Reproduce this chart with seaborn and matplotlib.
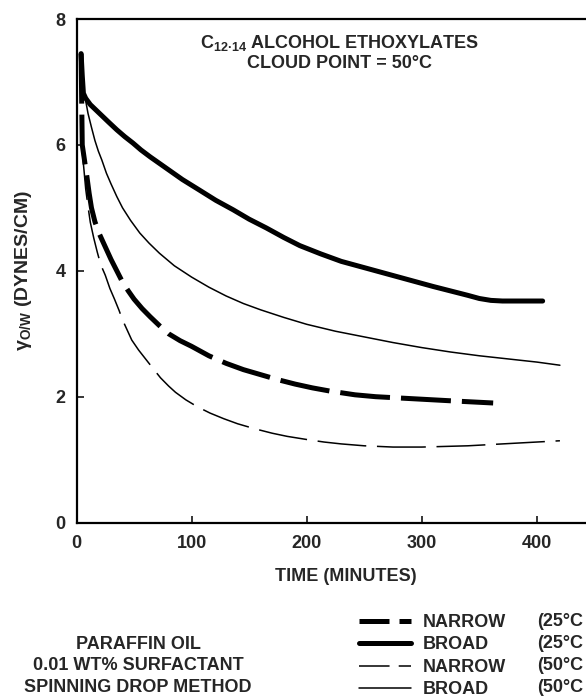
import pandas as pd
import numpy as np
import matplotlib.pyplot as plt
import seaborn as sns
from matplotlib.lines import Line2D

# --- data (time in minutes, IFT in dynes/cm) ---
t_narrow25 = [4, 4.5, 5, 7, 9, 11, 13, 16, 20, 25, 30, 35, 40, 45, 50, 57, 64, 72, 80, 90, 100,
              115, 130, 145, 160, 175, 190, 205, 220, 242, 260, 280, 300, 330, 362]
y_narrow25 = [7.45, 6.7, 6.0, 5.75, 5.5, 5.23, 5.0, 4.78, 4.58, 4.38, 4.18, 4.0, 3.82, 3.68, 3.55,
              3.4, 3.27, 3.13, 3.0, 2.89, 2.8, 2.65, 2.53, 2.43, 2.35, 2.27, 2.2, 2.14, 2.09,
              2.03, 2.0, 1.98, 1.96, 1.93, 1.9]

t_broad25 = [4, 5, 6, 8, 12, 20, 28, 35, 42, 49, 56, 64, 71, 78, 92, 107, 121, 136, 150, 165, 180,
             194, 212, 230, 250, 270, 290, 310, 325, 340, 350, 360, 370, 380, 392, 405]
y_broad25 = [7.45, 7.1, 6.82, 6.74, 6.64, 6.5, 6.36, 6.24, 6.13, 6.03, 5.92, 5.81, 5.72, 5.63, 5.45,
             5.28, 5.12, 4.97, 4.82, 4.68, 4.53, 4.4, 4.27, 4.15, 4.05, 3.95, 3.85, 3.75, 3.68,
             3.61, 3.56, 3.53, 3.52, 3.52, 3.52, 3.52]

t_narrow50 = [5, 6.5, 8, 10, 12, 15, 18, 21, 25, 29, 33, 37, 40, 44, 48, 54, 60, 66, 73, 80, 86, 95,
              105, 116, 128, 140, 155, 170, 183, 200, 215, 230, 250, 275, 300, 320, 340, 360, 380,
              400, 420]
y_narrow50 = [5.9, 5.6, 5.3, 5.02, 4.77, 4.52, 4.3, 4.1, 3.93, 3.72, 3.55, 3.37, 3.22, 3.06, 2.9,
              2.74, 2.6, 2.46, 2.3, 2.17, 2.07, 1.95, 1.84, 1.74, 1.65, 1.57, 1.49, 1.42, 1.37,
              1.32, 1.28, 1.25, 1.22, 1.2, 1.2, 1.21, 1.22, 1.24, 1.26, 1.28, 1.30]

t_broad50 = [4, 5, 6, 8, 10, 13, 16, 19, 22, 26, 30, 35, 40, 47, 55, 63, 72, 85, 100, 115, 130, 145,
             160, 180, 200, 225, 250, 275, 300, 325, 350, 375, 400, 420]
y_broad50 = [7.45, 7.1, 6.85, 6.7, 6.5, 6.28, 6.07, 5.9, 5.76, 5.55, 5.38, 5.18, 5.0, 4.8, 4.6,
             4.44, 4.28, 4.08, 3.9, 3.74, 3.6, 3.48, 3.38, 3.26, 3.15, 3.04, 2.95, 2.86, 2.78,
             2.71, 2.65, 2.6, 2.55, 2.5]

x_ticks = [0, 100, 200, 300, 400]
y_ticks = [0, 2, 4, 6, 8]

sns.set_style("ticks")
plt.rcParams["font.family"] = ["Liberation Sans", "DejaVu Sans"]
plt.rcParams["font.weight"] = "bold"
plt.rcParams["mathtext.fontset"] = "custom"
plt.rcParams["mathtext.rm"] = "Liberation Sans:bold"
plt.rcParams["mathtext.it"] = "Liberation Sans:italic:bold"

fig = plt.figure(figsize=(5.86, 7.0), dpi=100)
ax = fig.add_axes([76.5 / 586, (700 - 522.6) / 700, (586 - 76.5) / 586, (522.6 - 19) / 700])

thick, thin = 3.6, 1.1
series = [
    ("NARROW", "(25°C", t_narrow25, y_narrow25, thick, (0, (10, 2.2))),
    ("BROAD", "(25°C", t_broad25, y_broad25, thick, "-"),
    ("NARROW", "(50°C", t_narrow50, y_narrow50, thin, (0, (32, 7))),
    ("BROAD", "(50°C", t_broad50, y_broad50, thin, "-"),
]
for name, temp, t, y, lw, ls in series:
    df = pd.DataFrame({"time": t, "ift": y})
    sns.lineplot(data=df, x="time", y="ift", ax=ax, color="black", lw=lw,
                 linestyle=ls, sort=False, estimator=None, legend=False)

ax.set_xlim(0, (586 - 76.5) / 1.151)
ax.set_ylim(0, 8)
ax.set_xticks(x_ticks)
ax.set_yticks(y_ticks)
ax.tick_params(direction="in", length=5, width=1.3, labelsize=13, pad=8)
ax.tick_params(axis="x", pad=9)
for s in ["left", "bottom", "top"]:
    ax.spines[s].set_linewidth(1.6)
    ax.spines[s].set_color("black")
ax.spines["right"].set_visible(False)

ax.set_xlabel("TIME (MINUTES)", fontsize=13, fontweight="bold", va="center")
ax.xaxis.set_label_coords(0.529, -0.108)
ax.set_ylabel(r"γ$_{\mathrm{O/W}}$ (DYNES/CM)", fontsize=14, fontweight="bold", va="center")
ax.yaxis.set_label_coords(-0.105, 0.5)

ax.text(0.517, 0.933, "C$_{\\mathrm{12\u00b714}}$ ALCOHOL ETHOXYLATES\nCLOUD POINT = 50°C",
        transform=ax.transAxes, ha="center", va="center", fontsize=13,
        fontweight="bold", linespacing=1.15)

# legend
handles = [
    Line2D([], [], color="black", lw=thick, linestyle=(0, (6, 2))),
    Line2D([], [], color="black", lw=thick, linestyle="-"),
    Line2D([], [], color="black", lw=thin, linestyle=(0, (20, 6))),
    Line2D([], [], color="black", lw=thin, linestyle="-"),
]
fig.legend(handles, [s[0] for s in series], loc="upper left",
           bbox_to_anchor=(359 / 586, 1 - 614 / 700), frameon=False, borderpad=0,
           borderaxespad=0, handlelength=2.88, handletextpad=0.66, labelspacing=0.3,
           prop={"size": 13, "weight": "bold"})
for i, yy in enumerate([622, 644, 666, 688]):
    fig.text(537 / 586, 1 - yy / 700, series[i][1], ha="left", va="center",
             fontsize=13, fontweight="bold")

fig.text(138 / 586, 1 - 666 / 700, "PARAFFIN OIL\n0.01 WT% SURFACTANT\nSPINNING DROP METHOD",
         ha="center", va="center", fontsize=13, fontweight="bold", linespacing=1.32,
         multialignment="center")

plt.savefig("out.png", dpi=100)
